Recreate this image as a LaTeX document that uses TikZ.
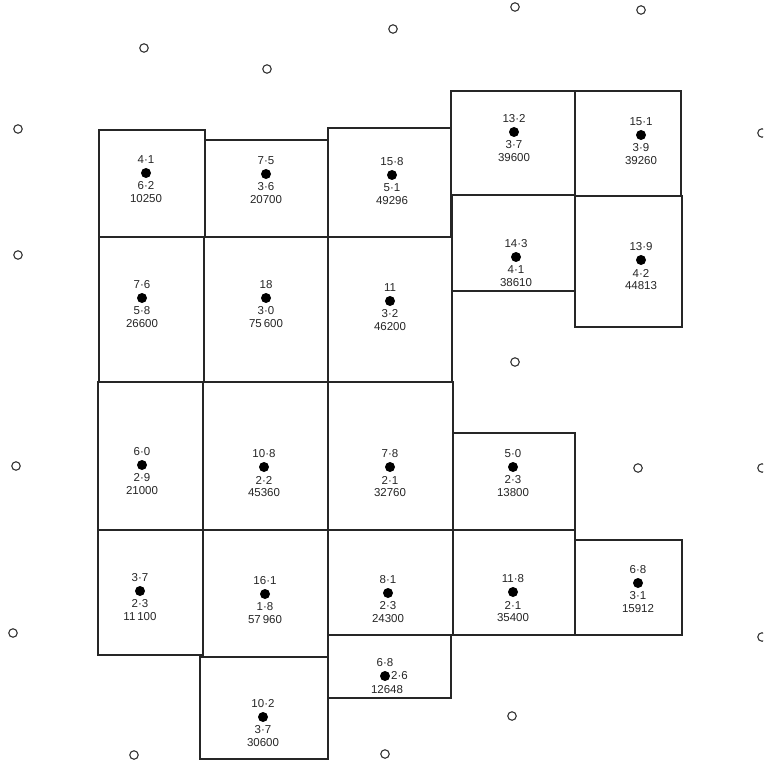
\documentclass[tikz,border=0pt]{standalone}
\usepackage{fontspec}
\setmainfont{Liberation Sans}
\begin{document}
\begin{tikzpicture}[x=1pt,y=-1pt,
  cellbox/.style={draw=black!85,line width=1.3pt},
  dot/.style={circle,fill=black,inner sep=0pt,minimum size=10pt},
  ring/.style={circle,draw=black!80,line width=1.1pt,inner sep=0pt,minimum size=8.5pt},
  lbl/.style={font=\fontsize{11.5}{13}\selectfont,inner sep=0pt,text=black!85}]
\useasboundingbox[fill=white] (0,0) rectangle (763,767);
\clip (0,0) rectangle (763,767);
% cells
\draw[cellbox] (99,130) rectangle (205,237);
\draw[cellbox] (205,140) rectangle (328,237);
\draw[cellbox] (328,128) rectangle (451,237);
\draw[cellbox] (451,91) rectangle (575,195);
\draw[cellbox] (575,91) rectangle (681,196);
\draw[cellbox] (99,237) rectangle (204,382);
\draw[cellbox] (204,237) rectangle (328,382);
\draw[cellbox] (328,237) rectangle (452,382);
\draw[cellbox] (452,195) rectangle (575,291);
\draw[cellbox] (575,196) rectangle (682,327);
\draw[cellbox] (98,382) rectangle (203,530);
\draw[cellbox] (203,382) rectangle (328,530);
\draw[cellbox] (328,382) rectangle (453,530);
\draw[cellbox] (453,433) rectangle (575,530);
\draw[cellbox] (98,530) rectangle (203,655);
\draw[cellbox] (203,530) rectangle (328,657);
\draw[cellbox] (328,530) rectangle (453,635);
\draw[cellbox] (453,530) rectangle (575,635);
\draw[cellbox] (575,540) rectangle (682,635);
\draw[cellbox] (328,635) rectangle (451,698);
\draw[cellbox] (200,657) rectangle (328,759);
% stations
\newcommand\stn[5]{%
  \node[dot] (#1) at (#2,#3) {};
  \node[lbl] (#1a) at (#2,#3-13) {#4};
  \node[lbl] (#1b) at (#2,#3+13) {#5};
}
\newcommand\stnval[4]{\node[lbl] (#1c) at (#2,#3+26) {#4};}
\stn{s1}{146}{173}{4·1}{6·2}\stnval{s1}{146}{173}{10250}
\stn{s2}{266}{174}{7·5}{3·6}\stnval{s2}{266}{174}{20700}
\stn{s3}{392}{175}{15·8}{5·1}\stnval{s3}{392}{175}{49296}
\stn{s4}{514}{132}{13·2}{3·7}\stnval{s4}{514}{132}{39600}
\stn{s5}{641}{135}{15·1}{3·9}\stnval{s5}{641}{135}{39260}
\stn{s6}{142}{298}{7·6}{5·8}\stnval{s6}{142}{298}{26600}
\stn{s7}{266}{298}{18}{3·0}\stnval{s7}{266}{298}{75\,600}
\stn{s8}{390}{301}{11}{3·2}\stnval{s8}{390}{301}{46200}
\stn{s9}{516}{257}{14·3}{4·1}\stnval{s9}{516}{257}{38610}
\stn{s10}{641}{260}{13·9}{4·2}\stnval{s10}{641}{260}{44813}
\stn{s11}{142}{465}{6·0}{2·9}\stnval{s11}{142}{465}{21000}
\stn{s12}{264}{467}{10·8}{2·2}\stnval{s12}{264}{467}{45360}
\stn{s13}{390}{467}{7·8}{2·1}\stnval{s13}{390}{467}{32760}
\stn{s14}{513}{467}{5·0}{2·3}\stnval{s14}{513}{467}{13800}
\stn{s15}{140}{591}{3·7}{2·3}\stnval{s15}{140}{591}{11\,100}
\stn{s16}{265}{594}{16·1}{1·8}\stnval{s16}{265}{594}{57\,960}
\stn{s17}{388}{593}{8·1}{2·3}\stnval{s17}{388}{593}{24300}
\stn{s18}{513}{592}{11·8}{2·1}\stnval{s18}{513}{592}{35400}
\stn{s19}{638}{583}{6·8}{3·1}\stnval{s19}{638}{583}{15912}
\stn{s21}{263}{717}{10·2}{3·7}\stnval{s21}{263}{717}{30600}
\node[dot] (s20) at (385,676) {};
\node[lbl] (s20a) at (385,663) {6·8};
\node[lbl,anchor=west] (s20b) at (391,676) {2·6};
\node[lbl] (s20c) at (387,690) {12648};
% open circles
\foreach \i/\x/\y in {1/144/48, 2/267/69, 3/393/29, 4/515/7, 5/641/10,
  6/18/129, 7/762/133, 8/18/255, 9/515/362, 10/16/466, 11/638/468,
  12/762/468, 13/13/633, 14/762/637, 15/512/716, 16/134/755, 17/385/754}
  \node[ring] (r\i) at (\x,\y) {};
\end{tikzpicture}
\end{document}
